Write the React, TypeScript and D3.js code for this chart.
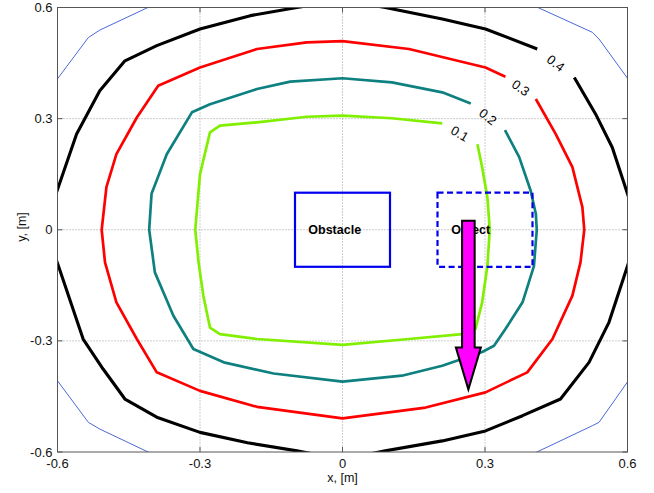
import React from 'react';
import * as d3 from 'd3';

// contour levels: [x, y] in metres.
// each open line starts right after its label gap and ends right before it
const level01: [number, number][] = [
  [0.284, 0.231], [0.294, 0.169], [0.305, 0.088], [0.31, 0], [0.305, -0.098], [0.294, -0.196],
  [0.28, -0.268], [0.252, -0.282], [0.14, -0.295], [0, -0.311], [-0.18, -0.295], [-0.258, -0.282],
  [-0.279, -0.264], [-0.293, -0.178], [-0.303, -0.088], [-0.31, 0], [-0.3, 0.15], [-0.279, 0.263],
  [-0.258, 0.281], [-0.18, 0.29], [-0.075, 0.305], [0, 0.308], [0.104, 0.301], [0.21, 0.287],
];
const level02: [number, number][] = [
  [0.342, 0.269], [0.372, 0.196], [0.396, 0.106], [0.407, 0.043], [0.409, 0], [0.403, -0.098],
  [0.379, -0.196], [0.343, -0.268], [0.319, -0.313], [0.294, -0.33], [0.21, -0.367], [0.125, -0.394],
  [0, -0.41], [-0.145, -0.388], [-0.25, -0.358], [-0.314, -0.322], [-0.356, -0.232], [-0.395, -0.115],
  [-0.407, 0], [-0.402, 0.097], [-0.37, 0.204], [-0.317, 0.317], [-0.279, 0.339], [-0.18, 0.38],
  [-0.11, 0.4], [0, 0.409], [0.104, 0.398], [0.21, 0.371], [0.27, 0.341],
];
const level03: [number, number][] = [
  [0.407, 0.353], [0.449, 0.258], [0.484, 0.169], [0.505, 0.061], [0.509, 0], [0.501, -0.088],
  [0.484, -0.178], [0.442, -0.295], [0.389, -0.385], [0.301, -0.439], [0.175, -0.48], [0, -0.509],
  [-0.18, -0.478], [-0.3, -0.435], [-0.391, -0.385], [-0.433, -0.295], [-0.476, -0.196], [-0.5, -0.088],
  [-0.507, 0], [-0.497, 0.115], [-0.476, 0.204], [-0.433, 0.303], [-0.388, 0.389], [-0.3, 0.438],
  [-0.18, 0.488], [-0.075, 0.506], [0, 0.509], [0.14, 0.488], [0.301, 0.438], [0.343, 0.413],
];
const level04: [number, number][] = [
  [0.488, 0.411], [0.533, 0.312], [0.568, 0.222], [0.6, 0.097], [0.625, 0], [0.6, -0.098],
  [0.561, -0.25], [0.519, -0.358], [0.459, -0.457], [0.379, -0.502], [0.301, -0.543], [0.21, -0.57],
  [0.09, -0.597], [0, -0.62], [-0.096, -0.597], [-0.2, -0.575], [-0.3, -0.547], [-0.391, -0.506],
  [-0.458, -0.457], [-0.504, -0.376], [-0.546, -0.295], [-0.598, -0.098], [-0.625, 0], [-0.602, 0.101],
  [-0.56, 0.258], [-0.511, 0.375], [-0.458, 0.456], [-0.391, 0.497], [-0.3, 0.542], [-0.194, 0.578],
  [-0.096, 0.6], [0, 0.62], [0.09, 0.6], [0.21, 0.569], [0.301, 0.542], [0.41, 0.488],
];
// 0.5 level, mostly outside the axes (closed)
const level05: [number, number][] = [
  [-0.63, 0.356], [-0.535, 0.519], [-0.511, 0.539], [-0.36, 0.63], [0.36, 0.63], [0.526, 0.533],
  [0.54, 0.515], [0.63, 0.356], [0.63, -0.356], [0.54, -0.52], [0.526, -0.529], [0.36, -0.63],
  [-0.36, -0.63], [-0.511, -0.538], [-0.535, -0.52], [-0.63, -0.356],
];

const levelLabels = ['0.1', '0.2', '0.3', '0.4'];
const levelLines = [level01, level02, level03, level04];
const levelColors = ['#80f000', '#0f8080', '#ff0000', '#000000'];
const levelWidths = [2.7, 2.7, 2.7, 3.1];

const ticks = [-0.6, -0.3, 0, 0.3, 0.6];
const tickLabels = ['-0.6', '-0.3', '0', '0.3', '0.6'];

// obstacle and object boxes: [x0, x1, y0, y1]
const obstacle = [-0.1, 0.1, -0.1, 0.1];
const objectBox = [0.2, 0.4, -0.1, 0.1];
const obstacleText: [number, number] = [-0.072, 0];
const objectText: [number, number] = [0.229, 0];

// motion arrow: from, to
const arrowFrom: [number, number] = [0.265, 0.024];
const arrowTo: [number, number] = [0.265, -0.431];

const W = 654;
const H = 493;
const font = 'Liberation Sans, Arial, Helvetica, sans-serif';

export default function App() {
  const x = d3.scaleLinear().domain([-0.6, 0.6]).range([57.5, 627.5]);
  const y = d3.scaleLinear().domain([-0.6, 0.6]).range([452, 7.5]);
  const line = d3.line<[number, number]>().x(d => x(d[0])).y(d => y(d[1]));

  const [x0, x1] = x.range();
  const [y0, y1] = [y(0.6), y(-0.6)];

  // arrow shape in px
  const ax = x(arrowFrom[0]);
  const aTop = y(arrowFrom[1]);
  const aTip = y(arrowTo[1]);
  const shaftHalf = 6.3;
  const headHalf = 12.5;
  const headLen = 42;
  const arrowPath = [
    [ax - shaftHalf, aTop], [ax + shaftHalf, aTop], [ax + shaftHalf, aTip - headLen],
    [ax + headHalf, aTip - headLen], [ax, aTip], [ax - headHalf, aTip - headLen],
    [ax - shaftHalf, aTip - headLen],
  ].map(p => p.join(',')).join(' ');

  return (
    <svg width={W} height={H} style={{ position: 'absolute', left: 0, top: 0, background: '#fff' }}>
      <defs>
        <clipPath id="plot">
          <rect x={x0} y={y0} width={x1 - x0} height={y1 - y0} />
        </clipPath>
      </defs>
      <rect width={W} height={H} fill="#fff" />

      {/* grid */}
      {ticks.slice(1, -1).map(t => (
        <g key={'g' + t} stroke="#9a9a9a" strokeWidth={1} strokeDasharray="1,2">
          <line x1={x(t)} x2={x(t)} y1={y0} y2={y1} />
          <line x1={x0} x2={x1} y1={y(t)} y2={y(t)} />
        </g>
      ))}

      {/* contours */}
      <g clipPath="url(#plot)" fill="none" strokeLinejoin="round">
        <path d={line(level05) + 'Z'} stroke="#4a68d6" strokeWidth={1} />
        {levelLines.map((pts, i) => (
          <path key={i} d={line(pts) || ''} stroke={levelColors[i]} strokeWidth={levelWidths[i]} />
        ))}
      </g>

      {/* contour labels, placed in the gap */}
      {levelLines.map((pts, i) => {
        const a = pts[pts.length - 1];
        const b = pts[0];
        const px = (x(a[0]) + x(b[0])) / 2;
        const py = (y(a[1]) + y(b[1])) / 2;
        const ang = (Math.atan2(y(b[1]) - y(a[1]), x(b[0]) - x(a[0])) * 180) / Math.PI;
        return (
          <text key={'l' + i} x={px} y={py} transform={`rotate(${ang},${px},${py})`}
            textAnchor="middle" dominantBaseline="central" fontFamily={font} fontSize={13} fill="#000">
            {levelLabels[i]}
          </text>
        );
      })}

      {/* boxes */}
      <rect x={x(obstacle[0])} y={y(obstacle[3])} width={x(obstacle[1]) - x(obstacle[0])}
        height={y(obstacle[2]) - y(obstacle[3])} fill="none" stroke="#0000ee" strokeWidth={2.2} />
      <rect x={x(objectBox[0])} y={y(objectBox[3])} width={x(objectBox[1]) - x(objectBox[0])}
        height={y(objectBox[2]) - y(objectBox[3])} fill="none" stroke="#0000ee" strokeWidth={2.2}
        strokeDasharray="6,3.5" />
      <text x={x(obstacleText[0])} y={y(obstacleText[1])} dominantBaseline="central" fontFamily={font}
        fontSize={12.5} fontWeight="bold" fill="#000">Obstacle</text>
      <text x={x(objectText[0])} y={y(objectText[1])} dominantBaseline="central" fontFamily={font}
        fontSize={12.5} fontWeight="bold" fill="#000">Object</text>

      {/* arrow */}
      <polygon points={arrowPath} fill="#ff00ff" stroke="#000" strokeWidth={2} strokeLinejoin="miter" />

      {/* axes box and ticks */}
      <rect x={x0} y={y0} width={x1 - x0} height={y1 - y0} fill="none" stroke="#555" strokeWidth={1} />
      {ticks.map(t => (
        <g key={'t' + t} stroke="#555" strokeWidth={1}>
          <line x1={x(t)} x2={x(t)} y1={y1} y2={y1 - 5} />
          <line x1={x(t)} x2={x(t)} y1={y0} y2={y0 + 5} />
          <line x1={x0} x2={x0 + 5} y1={y(t)} y2={y(t)} />
          <line x1={x1} x2={x1 - 5} y1={y(t)} y2={y(t)} />
        </g>
      ))}
      {ticks.map((t, i) => (
        <text key={'xt' + t} x={x(t)} y={y1 + 16} textAnchor="middle" fontFamily={font} fontSize={13} fill="#111">
          {tickLabels[i]}
        </text>
      ))}
      {ticks.map((t, i) => (
        <text key={'yt' + t} x={x0 - 5} y={y(t)} textAnchor="end" dominantBaseline="central"
          fontFamily={font} fontSize={13} fill="#111">
          {tickLabels[i]}
        </text>
      ))}
      <text x={(x0 + x1) / 2} y={482} textAnchor="middle" fontFamily={font} fontSize={12.5} fill="#111">x, [m]</text>
      <text x={22} y={227} transform="rotate(-90,22,227)" textAnchor="middle" dominantBaseline="central"
        fontFamily={font} fontSize={12.5} fill="#111">y, [m]</text>
    </svg>
  );
}
